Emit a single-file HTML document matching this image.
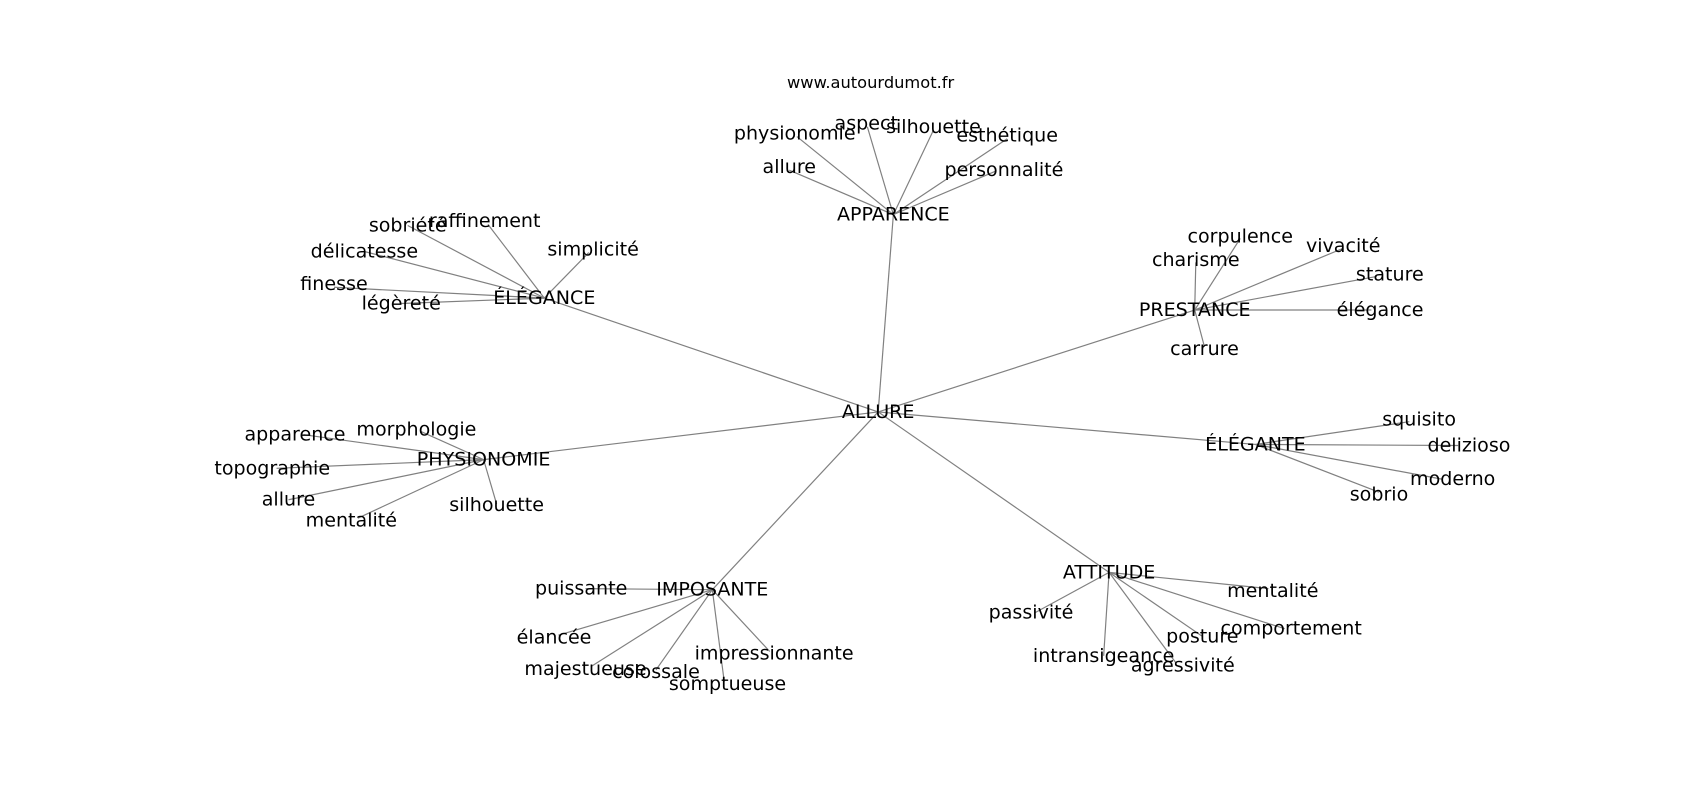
<!DOCTYPE html>
<html><head><meta charset="utf-8"><style>
html,body{margin:0;padding:0;background:#fff;}
svg{display:block;}
text{font-family:"DejaVu Sans","Liberation Sans",sans-serif;font-size:17.6px;fill:#000;text-anchor:middle;dominant-baseline:central;}
line{stroke:#808080;stroke-width:1.1;}
</style></head><body>
<svg width="1700" height="800" viewBox="0 0 1568 738" xmlns="http://www.w3.org/2000/svg">
<text x="803" y="76" style="font-size:15px">www.autourdumot.fr</text>
<g>
<line x1="810" y1="380" x2="824" y2="198"/>
<line x1="810" y1="380" x2="1102" y2="286"/>
<line x1="810" y1="380" x2="1158" y2="410"/>
<line x1="810" y1="380" x2="1023" y2="528"/>
<line x1="810" y1="380" x2="657" y2="544"/>
<line x1="810" y1="380" x2="446" y2="424"/>
<line x1="810" y1="380" x2="502" y2="275"/>

<line x1="824" y1="198" x2="735" y2="126"/>
<line x1="824" y1="198" x2="800" y2="117"/>
<line x1="824" y1="198" x2="861" y2="120"/>
<line x1="824" y1="198" x2="929" y2="128"/>
<line x1="824" y1="198" x2="728" y2="157"/>
<line x1="824" y1="198" x2="918" y2="158"/>

<line x1="502" y1="275" x2="376" y2="208"/>
<line x1="502" y1="275" x2="450" y2="207"/>
<line x1="502" y1="275" x2="336" y2="232"/>
<line x1="502" y1="275" x2="543" y2="233"/>
<line x1="502" y1="275" x2="308" y2="265"/>
<line x1="502" y1="275" x2="370" y2="280"/>

<line x1="1102" y1="286" x2="1144" y2="220"/>
<line x1="1102" y1="286" x2="1239" y2="229"/>
<line x1="1102" y1="286" x2="1103" y2="242"/>
<line x1="1102" y1="286" x2="1270" y2="255"/>
<line x1="1102" y1="286" x2="1265" y2="286"/>
<line x1="1102" y1="286" x2="1111" y2="320"/>

<line x1="1158" y1="410" x2="1300" y2="389"/>
<line x1="1158" y1="410" x2="1345" y2="411"/>
<line x1="1158" y1="410" x2="1330" y2="442"/>
<line x1="1158" y1="410" x2="1272" y2="454"/>

<line x1="1023" y1="528" x2="1170" y2="543"/>
<line x1="1023" y1="528" x2="955" y2="565"/>
<line x1="1023" y1="528" x2="1185" y2="580"/>
<line x1="1023" y1="528" x2="1109" y2="587"/>
<line x1="1023" y1="528" x2="1018" y2="605"/>
<line x1="1023" y1="528" x2="1085" y2="612"/>

<line x1="657" y1="544" x2="540" y2="543"/>
<line x1="657" y1="544" x2="515" y2="586"/>
<line x1="657" y1="544" x2="545" y2="615"/>
<line x1="657" y1="544" x2="605" y2="618"/>
<line x1="657" y1="544" x2="710" y2="601"/>
<line x1="657" y1="544" x2="668" y2="629"/>

<line x1="446" y1="424" x2="280" y2="401"/>
<line x1="446" y1="424" x2="388" y2="398"/>
<line x1="446" y1="424" x2="255" y2="432"/>
<line x1="446" y1="424" x2="266" y2="461"/>
<line x1="446" y1="424" x2="330" y2="478"/>
<line x1="446" y1="424" x2="458" y2="465"/>
</g>
<g>
<text x="810" y="380">ALLURE</text>
<text x="824" y="198">APPARENCE</text>
<text x="1102" y="286">PRESTANCE</text>
<text x="1158" y="410">ÉLÉGANTE</text>
<text x="1023" y="528">ATTITUDE</text>
<text x="657" y="544">IMPOSANTE</text>
<text x="446" y="424">PHYSIONOMIE</text>
<text x="502" y="275">ÉLÉGANCE</text>

<text x="733" y="123">physionomie</text>
<text x="799" y="114">aspect</text>
<text x="861" y="117">silhouette</text>
<text x="929" y="125">esthétique</text>
<text x="728" y="154">allure</text>
<text x="926" y="157">personnalité</text>

<text x="376" y="208">sobriété</text>
<text x="447" y="204">raffinement</text>
<text x="336" y="232">délicatesse</text>
<text x="547" y="230">simplicité</text>
<text x="308" y="262">finesse</text>
<text x="370" y="280">légèreté</text>

<text x="1144" y="218">corpulence</text>
<text x="1239" y="227">vivacité</text>
<text x="1103" y="240">charisme</text>
<text x="1282" y="253">stature</text>
<text x="1273" y="286">élégance</text>
<text x="1111" y="322">carrure</text>

<text x="1309" y="387">squisito</text>
<text x="1355" y="411">delizioso</text>
<text x="1340" y="442">moderno</text>
<text x="1272" y="456">sobrio</text>

<text x="1174" y="545">mentalité</text>
<text x="951" y="565">passivité</text>
<text x="1191" y="580">comportement</text>
<text x="1109" y="587">posture</text>
<text x="1018" y="605">intransigeance</text>
<text x="1091" y="614">agressivité</text>

<text x="536" y="543">puissante</text>
<text x="511" y="588">élancée</text>
<text x="540" y="617">majestueuse</text>
<text x="605" y="620">colossale</text>
<text x="714" y="603">impressionnante</text>
<text x="671" y="631">somptueuse</text>

<text x="272" y="401">apparence</text>
<text x="384" y="396">morphologie</text>
<text x="251" y="432">topographie</text>
<text x="266" y="461">allure</text>
<text x="324" y="480">mentalité</text>
<text x="458" y="466">silhouette</text>
</g>
</svg>
</body></html>
